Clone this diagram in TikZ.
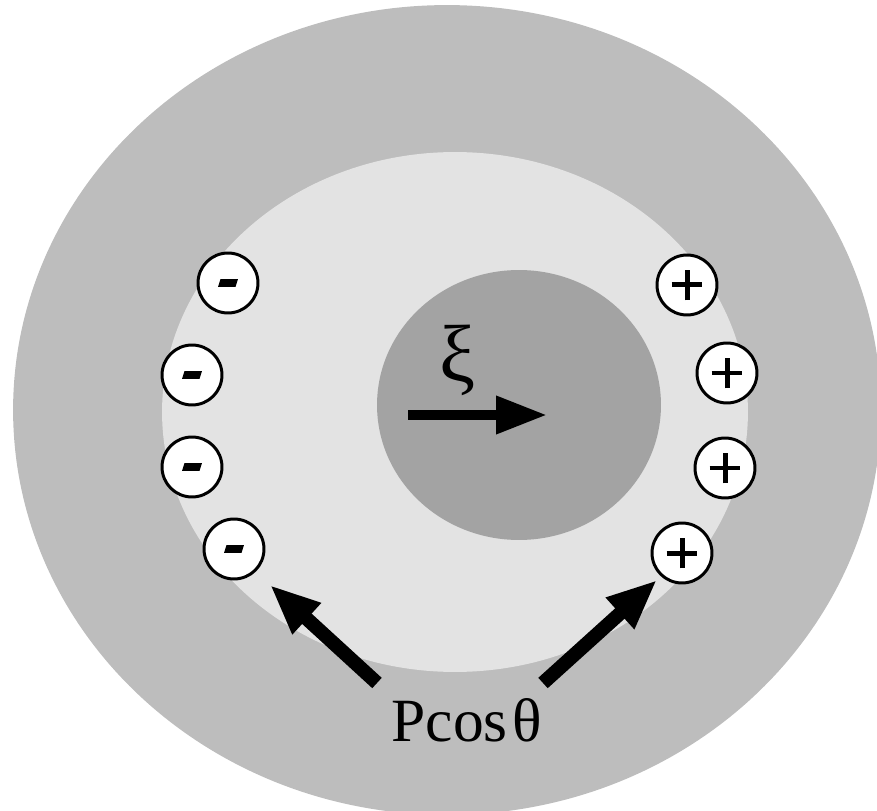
\documentclass[tikz,border=0pt]{standalone}
\usepackage{fontspec}
\setmainfont{Liberation Serif}
\usepackage{tikz}
\usepackage{xcolor}
\usetikzlibrary{arrows.meta, positioning, calc}

\definecolor{outergray}{gray}{0.74}
\definecolor{midgray}{gray}{0.89}
\definecolor{innergray}{gray}{0.64}

\tikzset{
    charge/.style={circle, draw, line width=1.7pt, fill=white, minimum size=1.2cm, inner sep=0pt},
    pluscharge/.style={charge, path picture={
        \draw[black, line width=0.1cm]
            ([xshift=-0.31cm]path picture bounding box.center) -- ([xshift=0.31cm]path picture bounding box.center)
            ([yshift=-0.31cm]path picture bounding box.center) -- ([yshift=0.31cm]path picture bounding box.center);
    }},
    minuscharge/.style={charge, path picture={
        \fill[black] ([shift={(-0.2cm,-0.08cm)}]path picture bounding box.center)
            -- ([shift={(0.15cm,-0.08cm)}]path picture bounding box.center)
            -- ([shift={(0.2cm,0.08cm)}]path picture bounding box.center)
            -- ([shift={(-0.15cm,0.08cm)}]path picture bounding box.center) -- cycle;
    }},
    fieldarrow/.style={line width=0.2cm, -{Triangle[length=1.02cm, width=0.72cm]}},
    polarrow/.style={line width=0.28cm, -{Triangle[length=1cm, width=0.78cm]}}
}

\begin{document}
\begin{tikzpicture}[x=0.02cm, y=-0.02cm]
    \useasboundingbox (0,0) rectangle (877,811);
    \clip (0,0) rectangle (877,811);

    % Outer medium
    \fill[outergray] (447,410) ellipse [x radius=8.68cm, y radius=8.1cm];
    % Polarised shell
    \fill[midgray] (455,412) ellipse [x radius=5.86cm, y radius=5.2cm];
    % Inner core
    \fill[innergray] (519,405) ellipse [x radius=2.84cm, y radius=2.7cm];

    % Field inside the core
    \coordinate (xistart) at (408,415);
    \coordinate (xiend) at (547,415);
    \draw[fieldarrow] (xistart) -- (xiend);
    \node[font=\fontsize{46}{46}\selectfont] (xi) at (458,360) {ξ};

    % Negative charges on the left
    \foreach \name/\x/\y in {m1/228/283, m2/192/375, m3/192/467, m4/234/549} {
        \node[minuscharge] (\name) at (\x,\y) {};
    }

    % Positive charges on the right
    \foreach \name/\x/\y in {p1/687/285, p2/727/373, p3/725/468, p4/682/553} {
        \node[pluscharge] (\name) at (\x,\y) {};
    }

    % Surface charge label
    \node[font=\fontsize{35}{35}\selectfont] (pcos) at (467,720) {Pcos\kern3pt θ};

    \coordinate (ltail) at (377,683);
    \coordinate (ltip) at (270,585);
    \coordinate (rtail) at (543,683);
    \coordinate (rtip) at (657,580);
    \draw[polarrow] (ltail) -- (ltip);
    \draw[polarrow] (rtail) -- (rtip);
\end{tikzpicture}
\end{document}
